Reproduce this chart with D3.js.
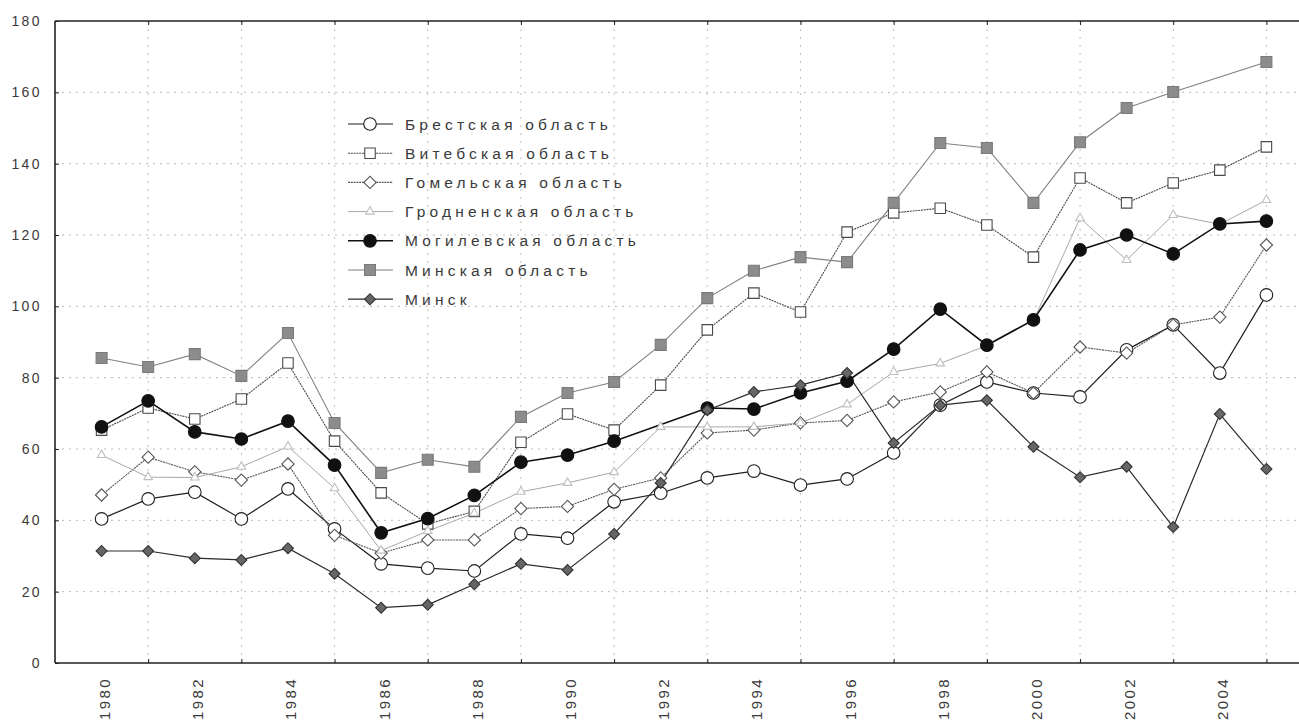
<!DOCTYPE html>
<html><head><meta charset="utf-8">
<script src="https://cdn.jsdelivr.net/npm/d3@7/dist/d3.min.js"></script>
<style>
html,body{margin:0;padding:0;background:#fff;overflow:hidden;}
svg{display:block;font-family:Arial,"Liberation Sans",sans-serif;}
</style></head>
<body><svg id="c" width="1299" height="728"></svg>
<script>
const years = d3.range(1980, 2006);
const yTicks = [0, 20, 40, 60, 80, 100, 120, 140, 160, 180];
const xLabelYears = [1980,1982,1984,1986,1988,1990,1992,1994,1996,1998,2000,2002,2004];
const seriesNames = ["Брестская область","Витебская область","Гомельская область","Гродненская область","Могилевская область","Минская область","Минск"];
const brest   = [40.4,46,47.9,40.4,48.8,37.6,27.8,26.6,25.8,36.2,35,45.2,47.6,51.9,53.8,49.9,51.6,58.9,72.3,78.8,75.7,74.6,87.8,94.8,81.3,103.2];
const vitebsk = [65.3,71.5,68.4,74,84.1,62.2,47.7,39,42.5,61.9,69.8,65.3,77.9,93.4,103.7,98.4,120.8,126.2,127.5,122.8,113.8,136,129,134.6,138.2,144.7];
const gomel   = [47.1,57.7,53.6,51.3,55.8,35.8,30.8,34.5,34.5,43.3,43.9,48.7,51.9,64.5,65.3,67.3,68,73.2,76,81.6,75.7,88.6,86.9,94.8,97,117.2];
const grodno  = [58.3,52.1,52,55,60.7,49,31.5,37,42,48,50.5,53.5,66.2,66.2,66.2,67.3,72.5,81.6,84,89,96,124.7,113,125.6,123,129.8];
const mogilev = [66.2,73.5,64.8,62.8,67.8,55.5,36.5,40.5,47,56.3,58.3,62.2,null,71.5,71.2,75.7,79,88,99.2,89.1,96.2,115.8,120,114.7,123.1,123.9];
const minskObl= [85.5,83,86.6,80.5,92.5,67.3,53.3,57,55,69,75.7,78.8,89.2,102.3,110,113.8,112.4,129,145.8,144.4,129,146,155.6,160.1,null,168.5];
const minsk   = [31.4,31.4,29.4,28.9,32.2,25,15.5,16.3,22.1,27.8,26.1,36.2,50.5,70.9,76,77.9,81.3,61.7,72.3,73.7,60.6,52.1,55,38.1,69.8,54.4];

const allValues = [brest, vitebsk, gomel, grodno, mogilev, minskObl, minsk];

const styles = [
  {line:"#1e1e1e", w:1.2, dash:null, sym:"circle", fill:"#fff", stroke:"#1e1e1e", size:125},
  {line:"#4a4a4a", w:1.1, dash:"2,0.8", sym:"square", fill:"#fff", stroke:"#4a4a4a", size:110},
  {line:"#555", w:1.1, dash:"2,0.8", sym:"diamond", fill:"#fff", stroke:"#555", size:75},
  {line:"#a8a8a8", w:1, dash:null, sym:"triangle", fill:"#fff", stroke:"#c0c0c0", size:32},
  {line:"#111", w:1.6, dash:null, sym:"circle", fill:"#111", stroke:"#111", size:125},
  {line:"#808080", w:1.1, dash:null, sym:"square", fill:"#8c8c8c", stroke:"#7a7a7a", size:120},
  {line:"#2a2a2a", w:1.2, dash:null, sym:"diamond", fill:"#666", stroke:"#333", size:60}
];

const svg = d3.select("#c");
const x = d3.scaleLinear().domain([1979, 2006]).range([55, 1313]);
const y = d3.scaleLinear().domain([0, 180]).range([663, 21]);

// grid
const grid = svg.append("g");
grid.selectAll("line.h").data(yTicks.filter(v=>v>0 && v<180)).enter().append("line")
  .attr("x1", x(1979)).attr("x2", 1299).attr("y1", d=>y(d)).attr("y2", d=>y(d))
  .attr("stroke", "#b8b8b8").attr("stroke-width", 1).attr("stroke-dasharray", "2,5");
const oddYears = d3.range(1981, 2006, 2);
grid.selectAll("line.v").data(oddYears).enter().append("line")
  .attr("x1", d=>x(d)).attr("x2", d=>x(d)).attr("y1", y(180)).attr("y2", y(0))
  .attr("stroke", "#c0c0c0").attr("stroke-width", 1).attr("stroke-dasharray", "2,6");

// frame
svg.append("line").attr("x1", x(1979)).attr("x2", 1299).attr("y1", y(180)).attr("y2", y(180)).attr("stroke","#222").attr("stroke-width",1.6);
svg.append("line").attr("x1", x(1979)).attr("x2", 1299).attr("y1", y(0)).attr("y2", y(0)).attr("stroke","#222").attr("stroke-width",1.6);
svg.append("line").attr("x1", x(1979)).attr("x2", x(1979)).attr("y1", y(180)).attr("y2", y(0)).attr("stroke","#222").attr("stroke-width",1.6);

// y axis
const yAxis = svg.append("g").attr("transform", `translate(${x(1979)},0)`)
  .call(d3.axisLeft(y).tickValues(yTicks).tickSize(-4).tickPadding(13).tickFormat(d3.format("d")));
yAxis.select(".domain").remove();
yAxis.selectAll("line").attr("stroke","#222");
yAxis.selectAll("text").attr("font-size", 14).attr("fill", "#3a3a3a").attr("letter-spacing", "2.4px")
  .attr("font-family", "Arial, 'Liberation Sans', sans-serif");

// x ticks (odd years) bottom and top
const xb = svg.append("g").attr("transform", `translate(0,${y(0)})`)
  .call(d3.axisBottom(x).tickValues(oddYears).tickSize(-4).tickFormat(""));
xb.select(".domain").remove();
xb.selectAll("line").attr("stroke","#222");
const xt = svg.append("g").attr("transform", `translate(0,${y(180)})`)
  .call(d3.axisTop(x).tickValues(oddYears).tickSize(-4).tickFormat(""));
xt.select(".domain").remove();
xt.selectAll("line").attr("stroke","#222");

// x labels (even years), rotated
const xl = svg.append("g").attr("transform", `translate(0,${y(0)})`)
  .call(d3.axisBottom(x).tickValues(xLabelYears).tickSize(0).tickFormat(d3.format("d")));
xl.select(".domain").remove();
xl.selectAll("text")
  .attr("font-size", 15).attr("fill", "#3a3a3a").attr("letter-spacing", "2.4px")
  .attr("font-family", "Arial, 'Liberation Sans', sans-serif")
  .attr("text-anchor", "end").attr("dy", null).attr("y", 0)
  .attr("transform", "translate(8,14) rotate(-90)");

// symbols
function symPath(s, size) {
  if (s === "circle") return d3.symbol(d3.symbolCircle, size)();
  if (s === "square") return d3.symbol(d3.symbolSquare, size)();
  if (s === "triangle") return d3.symbol(d3.symbolTriangle, size)();
  if (s === "diamond") return d3.symbol(d3.symbolSquare, size)();
  return "";
}
function symTransform(s) { return s === "diamond" ? " rotate(45)" : ""; }

const lineGen = d3.line().x(d=>x(d.year)).y(d=>y(d.v));
const plot = svg.append("g");
allValues.forEach((vals, i) => {
  const st = styles[i];
  const pts = years.map((yr, k) => ({year: yr, v: vals[k]})).filter(d => d.v !== null);
  plot.append("path").datum(pts).attr("d", lineGen)
    .attr("fill","none").attr("stroke", st.line).attr("stroke-width", st.w)
    .attr("stroke-dasharray", st.dash);
});
allValues.forEach((vals, i) => {
  const st = styles[i];
  const pts = years.map((yr, k) => ({year: yr, v: vals[k]})).filter(d => d.v !== null);
  plot.selectAll(null).data(pts).enter().append("path")
    .attr("d", symPath(st.sym, st.size))
    .attr("transform", d => `translate(${x(d.year)},${y(d.v)})` + symTransform(st.sym))
    .attr("fill", st.fill).attr("stroke", st.stroke).attr("stroke-width", 1.1);
});

// legend
const lg = svg.append("g").attr("transform", "translate(348,124)");
seriesNames.forEach((name, i) => {
  const st = styles[i];
  const g = lg.append("g").attr("transform", `translate(0,${i*29.2})`);
  g.append("line").attr("x1",0).attr("x2",45).attr("y1",0).attr("y2",0)
    .attr("stroke", st.line).attr("stroke-width", st.w).attr("stroke-dasharray", st.dash);
  g.append("path").attr("d", symPath(st.sym, st.size))
    .attr("transform", "translate(22,0)" + symTransform(st.sym))
    .attr("fill", st.fill).attr("stroke", st.stroke).attr("stroke-width", 1.1);
  g.append("text").attr("x", 57).attr("y", 0).attr("dy", "0.36em")
    .attr("font-size", 15.5).attr("fill", "#3a3a3a").attr("letter-spacing", "4.2px")
    .text(name);
});
</script></body></html>
